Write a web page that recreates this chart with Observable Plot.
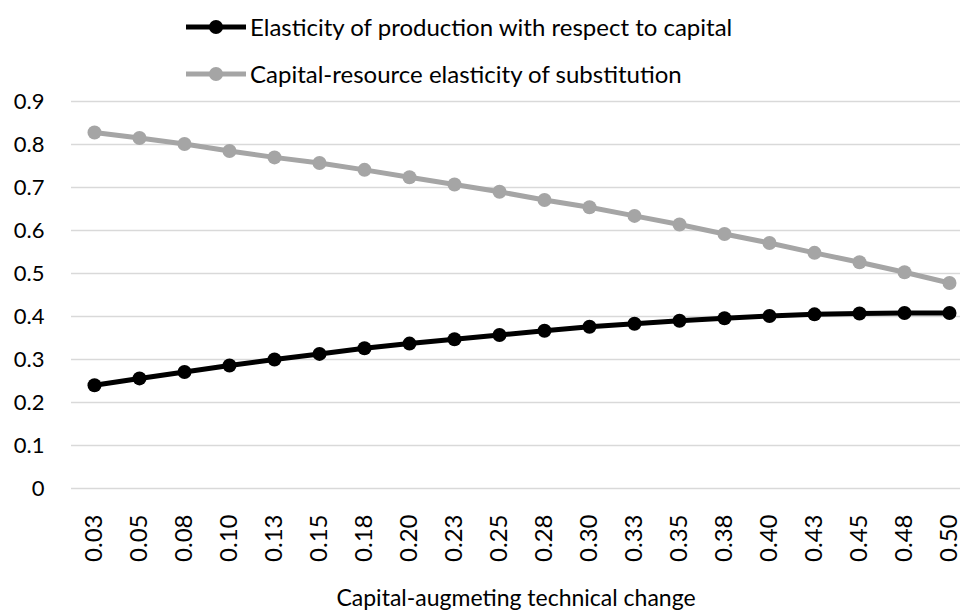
<!DOCTYPE html>
<html>
<head>
<meta charset="utf-8">
<script src="https://cdn.jsdelivr.net/npm/d3@7"></script>
<script src="https://cdn.jsdelivr.net/npm/@observablehq/plot@0.6"></script>
<style>
  html, body { margin: 0; padding: 0; background: #fff; }
  body { width: 960px; height: 615px; overflow: hidden; font-family: Lato, "Open Sans", sans-serif; }
  #legend { height: 80px; position: relative; }
  .item { position: absolute; left: 185px; display: flex; align-items: center; font-size: 24px; color: #000; white-space: nowrap; }
  .item svg { display: block; margin-right: 3px; }
</style>
</head>
<body>
<div id="legend"></div>
<div id="chart"></div>
<script>
const categories = ["0.03","0.05","0.08","0.10","0.13","0.15","0.18","0.20","0.23","0.25","0.28","0.30","0.33","0.35","0.38","0.40","0.43","0.45","0.48","0.50"];
const elasticityProduction = [0.240,0.256,0.271,0.286,0.300,0.313,0.326,0.337,0.347,0.357,0.367,0.376,0.383,0.390,0.396,0.401,0.405,0.407,0.408,0.408];
const elasticitySubstitution = [0.828,0.815,0.801,0.785,0.770,0.757,0.741,0.724,0.707,0.690,0.671,0.654,0.634,0.614,0.592,0.571,0.548,0.526,0.503,0.478];
const seriesNames = ["Elasticity of production with respect to capital", "Capital-resource elasticity of substitution"];
const seriesColors = ["#000000", "#a5a5a5"];
const yTicks = [0,0.1,0.2,0.3,0.4,0.5,0.6,0.7,0.8,0.9];

const rows = [];
categories.forEach((c, i) => {
  rows.push({x: c, y: elasticityProduction[i], s: seriesNames[0]});
  rows.push({x: c, y: elasticitySubstitution[i], s: seriesNames[1]});
});

// legend
const legend = document.getElementById("legend");
seriesNames.forEach((name, i) => {
  const d = document.createElement("div");
  d.className = "item";
  d.style.top = (i === 0 ? 12 : 59) + "px";
  d.innerHTML = `<svg width="62" height="28"><line x1="1" x2="61" y1="14" y2="14" stroke="${seriesColors[i]}" stroke-width="5"/><circle cx="31" cy="14" r="7" fill="${seriesColors[i]}"/></svg><span>${name}</span>`;
  legend.appendChild(d);
});

const chart = Plot.plot({
  width: 960,
  height: 535,
  marginTop: 21,
  marginBottom: 127,
  marginLeft: 71,
  marginRight: 0,
  style: {fontFamily: "Lato, 'Open Sans', sans-serif", fontSize: "22px", color: "#000", background: "#fff", overflow: "visible"},
  x: {type: "point", domain: categories, range: [93.3, 950], padding: 0, label: null},
  y: {domain: [0, 0.9], label: null},
  color: {domain: seriesNames, range: seriesColors},
  marks: [
    Plot.ruleY(yTicks, {stroke: "#d9d9d9", strokeWidth: 1.5}),
    Plot.axisY(yTicks, {tickSize: 0, tickPadding: 27, tickFormat: d => d === 0 ? "0" : d.toFixed(1), fontSize: 22, label: null}),
    Plot.axisX({tickSize: 0, tickPadding: 26, tickRotate: -90, fontSize: 24, label: null}),
    Plot.text(["Capital-augmeting technical change"], {frameAnchor: "bottom", lineAnchor: "middle", dy: 110, fontSize: 23, text: d => d}),
    Plot.line(rows, {x: "x", y: "y", z: "s", stroke: "s", strokeWidth: 5}),
    Plot.dot(rows, {x: "x", y: "y", fill: "s", r: 7})
  ]
});
document.getElementById("chart").appendChild(chart);
</script>
</body>
</html>
